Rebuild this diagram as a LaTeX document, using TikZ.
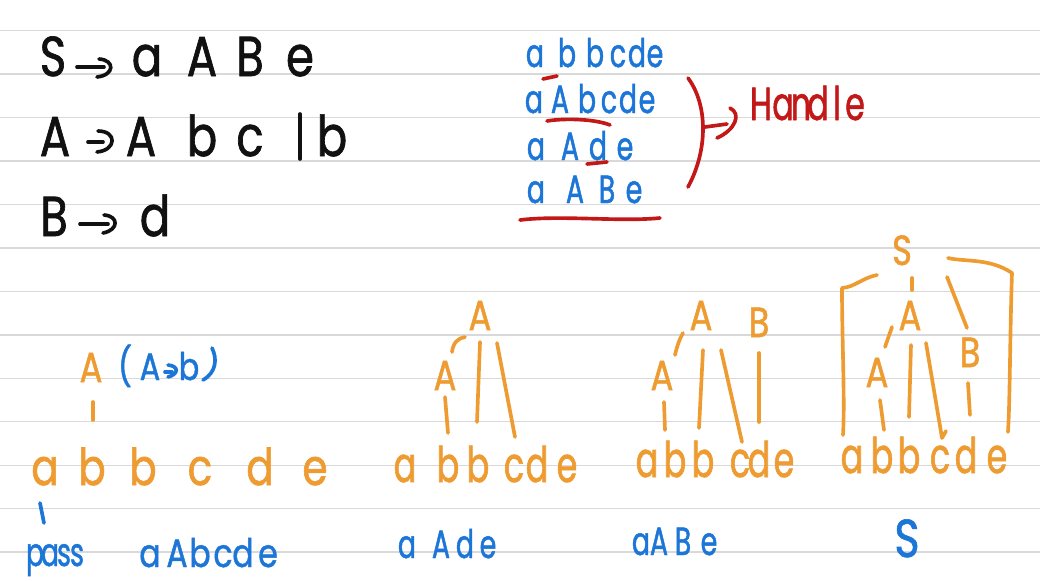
\documentclass[tikz,border=0pt]{standalone}
\usepackage{fontspec}
\setmainfont{Poppins}[FakeStretch=0.8, FakeBold=1.2]
\newfontfamily\narrowf{Poppins}[FakeStretch=0.68, FakeBold=1.2]
\definecolor{ink}{HTML}{111111}
\definecolor{bl}{HTML}{1C76D8}
\definecolor{og}{HTML}{EE9C31}
\definecolor{rd}{HTML}{C21818}
\definecolor{rulec}{HTML}{D9D9D9}
\newcommand\glyphs[4]{\foreach[count=\i] \x/\c in {#4} \node[#1] (#2-\i) at (\x,#3) {\c};}
\tikzset{
  g/.style={inner sep=0pt, anchor=base},
  kt/.style={g, text=ink, font=\fontsize{40}{40}\selectfont},
  bt/.style={g, text=bl, font=\fontsize{28}{28}\selectfont},
  btn/.style={g, text=bl, font=\narrowf\fontsize{28}{28}\selectfont},
  rt/.style={g, text=rd, font=\narrowf\fontsize{33}{33}\selectfont},
  orow/.style={g, text=og, font=\fontsize{36}{36}\selectfont},
  orown/.style={g, text=og, font=\narrowf\fontsize{35}{35}\selectfont},
  olab/.style={g, text=og, font=\fontsize{30}{30}\selectfont},
  pen/.style={line width=2.6pt, line cap=round, line join=round},
  kpen/.style={pen, draw=ink},
  bpen/.style={pen, draw=bl},
  open/.style={pen, draw=og},
  rpen/.style={pen, draw=rd},
  rule/.style={draw=rulec, line width=1pt}
}
\begin{document}
\begin{tikzpicture}[x=0.025cm,y=-0.025cm]
\useasboundingbox (0,0) rectangle (1040,580);
\fill[white] (0,0) rectangle (1040,580);
\foreach \i in {0,...,12} \draw[rule] (0,30.7+43.45*\i) -- (1040,30.7+43.45*\i);

% ---- grammar (black)
\glyphs{kt}{g1}{76}{53/S,147/a,202/A,250/B,300/e}
\draw[kpen] (77,67) -- (104,67);
\draw[kpen] (99,59) .. controls (115,60) and (115,75) .. (97,77);
\glyphs{kt}{g2}{156}{55/A,141/A,202/b,250/c,332/b}
\draw[kpen] (300,114) -- (300,159);
\draw[kpen] (88,142) -- (103,142);
\draw[kpen] (98,131) .. controls (117,131) and (117,150) .. (97,152);
\glyphs{kt}{g3}{236}{54/B,155/d}
\draw[kpen] (80,224) -- (108,224);
\draw[kpen] (104,215) .. controls (119,216) and (119,230) .. (103,233);

% ---- reductions (blue)
\glyphs{btn}{r1}{67}{535/a,567/b,595/b,618/c,637/d,655/e}
\glyphs{btn}{r2}{113}{534/a,560/A,587/b,609/c,628/d,647/e}
\glyphs{btn}{r3}{160}{536/a,570/A,598/d,625/e}
\glyphs{btn}{r4}{203}{536/a,575/A,607/B,634/e}
\draw[rpen] (543,79) -- (557,76);
\draw[rpen] (547,121) .. controls (565,118) and (595,119) .. (610,125);
\draw[rpen] (587,164) -- (607,162);
\draw[rpen] (520,220) .. controls (560,215) and (620,222) .. (660,218);
\draw[rpen] (688,78) .. controls (708,105) and (708,150) .. (688,187);
\draw[rpen] (705,127) -- (727,124);
\draw[rpen] (730,108) .. controls (742,114) and (735,130) .. (717,138);
\glyphs{rt}{h}{120}{761/H,783/a,801/n,818/d,837/l,855/e}

% ---- tree 1
\glyphs{orow}{t1}{485}{45/a,92/b,143/b,200/c,260/d,315/e}
\node[olab] (t1A) at (91,382) {A};
\draw[open] (93,402) -- (93,420);
\node[g, text=bl, font=\fontsize{27}{27}\selectfont] (p1) at (125,380) {(};
\node[g, text=bl, font=\fontsize{27}{27}\selectfont] (p2) at (150,380) {A};
\node[g, text=bl, font=\fontsize{27}{27}\selectfont] (p3) at (189,380) {b};
\draw[bpen] (165,372) -- (172,372);
\draw[bpen] (168,365) .. controls (179,366) and (179,374) .. (168,377);
\draw[bpen] (212,348) .. controls (217,358) and (217,372) .. (203,380);
\draw[bpen] (40,503) -- (44,523);
\glyphs{btn}{l1}{566}{35/p,50/a,64/s,77/s}
\glyphs{bt}{l2}{567}{150/a,177/A,200/b,223/c,243/d,268/e}

% ---- tree 2
\glyphs{orown}{t2}{482}{405/a,448/b,478/b,514/c,537/d,567/e}
\node[olab] (t2A) at (480,330) {A};
\node[olab] (t2L) at (445,390) {A};
\draw[open] (452,352) .. controls (453,343) and (458,338) .. (465,337);
\draw[open] (445,397) -- (448,433);
\draw[open] (480,342) -- (477,422);
\draw[open] (497,343) -- (515,437);
\glyphs{btn}{l3}{558}{407/a,441/A,465/d,488/e}

% ---- tree 3
\glyphs{orown}{t3}{477}{647/a,675/b,703/b,740/c,759/d,784/e}
\node[olab] (t3A) at (701,330) {A};
\node[olab] (t3B) at (759,337) {B};
\node[olab] (t3L) at (662,390) {A};
\draw[open] (675,355) .. controls (677,346) and (680,338) .. (683,333);
\draw[open] (664,402) -- (665,430);
\draw[open] (703,350) -- (699,428);
\draw[open] (721,350) -- (742,442);
\draw[open] (759,353) -- (759,422);
\glyphs{btn}{l4}{555}{641/a,659/A,683/B,709/e}

% ---- tree 4
\glyphs{orown}{t4}{473}{852/a,882/b,909/b,940/c,966/d,997/e}
\node[olab] (t4S) at (902,265) {S};
\node[olab] (t4A) at (910,330) {A};
\node[olab] (t4B) at (970,367) {B};
\node[olab] (t4L) at (877,387) {A};
\draw[open] (877,275) .. controls (862,278) and (855,287) .. (842,288) .. controls (842,340) and (845,400) .. (843,435);
\draw[open] (948,258) .. controls (965,262) and (990,258) .. (1012,273) .. controls (1010,330) and (1010,400) .. (1008,432);
\draw[open] (912,278) -- (912,290);
\draw[open] (947,277) -- (967,328);
\draw[open] (892,327) -- (885,347);
\draw[open] (880,400) -- (884,430);
\draw[open] (911,345) -- (909,417);
\draw[open] (926,343) -- (942,438) -- (946,431);
\draw[open] (968,383) -- (970,415);
\node[g, text=bl, font=\fontsize{38}{38}\selectfont] (l5) at (907,557) {S};
\end{tikzpicture}
\end{document}
